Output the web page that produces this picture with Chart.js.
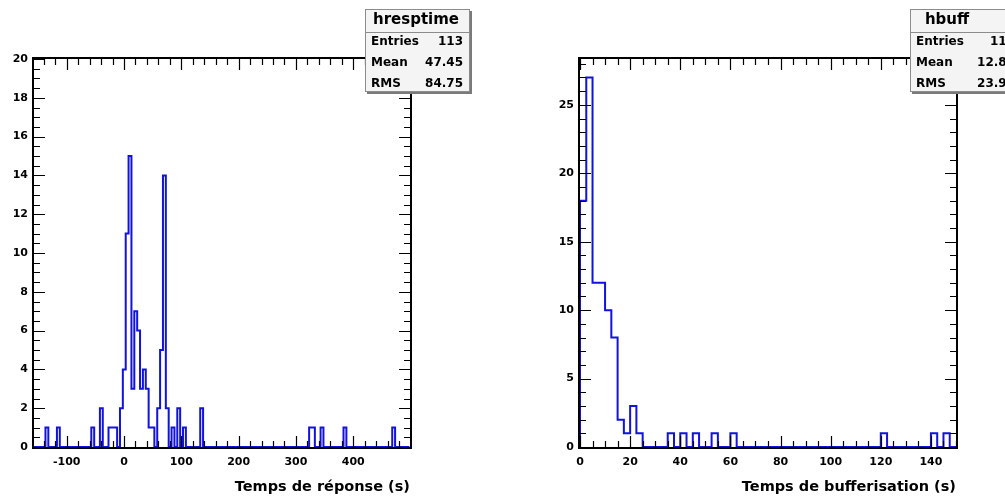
<!DOCTYPE html>
<html>
<head>
<meta charset="utf-8">
<script src="https://cdn.jsdelivr.net/npm/chart.js@4.4.1/dist/chart.umd.min.js"></script>
<style>
  html, body { margin: 0; padding: 0; background: #fff; }
  #wrap { position: relative; width: 1005px; height: 502px; overflow: hidden; }
  canvas { position: absolute; top: 0; }
  #resp { left: 0; }
  #buff { left: 505px; }
</style>
</head>
<body>
<div id="wrap">
  <canvas id="resp" width="505" height="502"></canvas>
  <canvas id="buff" width="500" height="502"></canvas>
</div>
<script>
// hresptime : temps de reponse, bins of 5 s starting at -157
const respLow = -157
const respBinWidth = 5
const respBinCount = 131
const respBinStarts = [-137, -117, -57, -42, -27, -22, -17, -7, -2, 3, 8, 13, 18, 23, 28, 33, 38, 43, 48,
  58, 63, 68, 73, 83, 93, 103, 133, 323, 328, 343, 383, 468]
const respCounts = [1, 1, 1, 2, 1, 1, 1, 2, 4, 11, 15, 3, 7, 6, 3, 4, 3, 1, 1,
  2, 5, 14, 2, 1, 2, 1, 2, 1, 1, 1, 1, 1]
const respStatLabels = ['Entries', 'Mean', 'RMS']
const respStatValues = ['113', '47.45', '84.75']

// hbuff : temps de bufferisation, bins of 2.5 s from 0 to 150
const buffLow = 0
const buffBinWidth = 2.5
const buffBinCount = 60
const buffBinStarts = [0, 2.5, 5, 7.5, 10, 12.5, 15, 17.5, 20, 22.5, 35, 40, 45, 52.5, 60, 120, 140, 145]
const buffCounts = [18, 27, 12, 12, 10, 8, 2, 1, 3, 1, 1, 1, 1, 1, 1, 1, 1, 1]
const buffStatLabels = ['Entries', 'Mean', 'RMS']
const buffStatValues = ['113', '12.87', '23.91']

const FONT = 'DejaVu Sans'

// turn the sparse bins into the outline points of the histogram
function histPoints(low, width, n, starts, counts) {
  const bins = new Array(n).fill(0)
  starts.forEach((s, i) => { bins[Math.round((s - low) / width)] = counts[i] })
  const pts = [{x: low, y: 0}]
  bins.forEach((c, k) => pts.push({x: low + k * width, y: c}))
  pts.push({x: low + n * width, y: bins[n - 1]})
  pts.push({x: low + n * width, y: 0})
  return pts
}

function eachTick(scale, minor, major, cb) {
  const i0 = Math.ceil(scale.min / minor - 1e-9)
  const i1 = Math.floor(scale.max / minor + 1e-9)
  for (let i = i0; i <= i1; i++) {
    const v = i * minor
    const r = v / major
    cb(v, Math.abs(r - Math.round(r)) < 1e-6)
  }
}

// ROOT style frame : ticks inside on all four sides + stat box
const rootFrame = {
  id: 'rootFrame',
  beforeDatasetsDraw(chart) {
    const {ctx, chartArea: a} = chart
    ctx.save()
    ctx.strokeStyle = '#000'
    ctx.lineWidth = 2
    ctx.strokeRect(a.left - 1, a.top - 1, a.right - a.left + 2, a.bottom - a.top + 2)
    ctx.restore()
  },
  afterDraw(chart, args, opts) {
    const {ctx, chartArea: a, scales: {x, y}} = chart
    ctx.save()
    ctx.strokeStyle = '#000'
    ctx.lineWidth = 1.2
    ctx.beginPath()
    eachTick(x, opts.xMinor, opts.xMajor, (v, major) => {
      const px = Math.round(x.getPixelForValue(v)) + 0.5
      const len = major ? opts.majorLen : opts.minorLen
      ctx.moveTo(px, a.bottom); ctx.lineTo(px, a.bottom - len)
      ctx.moveTo(px, a.top); ctx.lineTo(px, a.top + len)
    })
    eachTick(y, opts.yMinor, opts.yMajor, (v, major) => {
      const py = Math.round(y.getPixelForValue(v)) + 0.5
      const len = major ? opts.majorLen : opts.minorLen
      ctx.moveTo(a.left, py); ctx.lineTo(a.left + len, py)
      ctx.moveTo(a.right, py); ctx.lineTo(a.right - len, py)
    })
    ctx.stroke()

    // stat box
    const s = opts.stats
    ctx.fillStyle = '#7a7a7a'
    ctx.fillRect(s.left + 2, s.top + 2, s.width, s.height)
    ctx.fillStyle = '#f4f4f4'
    ctx.fillRect(s.left, s.top, s.width, s.height)
    ctx.strokeStyle = '#8c8c8c'
    ctx.lineWidth = 1
    ctx.strokeRect(s.left + 0.5, s.top + 0.5, s.width - 1, s.height - 1)
    ctx.beginPath()
    ctx.moveTo(s.left, s.top + 23.5)
    ctx.lineTo(s.left + s.width, s.top + 23.5)
    ctx.stroke()

    ctx.fillStyle = '#000'
    ctx.textBaseline = 'middle'
    ctx.textAlign = 'center'
    ctx.font = 'bold 15px ' + FONT
    ctx.fillText(s.title, s.titleX, s.top + 11.5)
    ctx.font = 'bold 12px ' + FONT
    s.labels.forEach((lab, i) => {
      const ty = s.top + 33 + 21 * i
      ctx.textAlign = 'left'
      ctx.fillText(lab, s.left + 6, ty)
      ctx.textAlign = 'right'
      ctx.fillText(s.values[i], s.left + s.width - 7, ty)
    })
    ctx.restore()
  }
}

function makeHist(canvas, pts, xr, yr, titleText, pad, yWidth, frameOpts) {
  return new Chart(canvas, {
    type: 'line',
    data: {
      datasets: [{
        data: pts,
        stepped: 'before',
        borderColor: '#1212e0',
        borderWidth: 2,
        pointRadius: 0,
        fill: false
      }]
    },
    options: {
      responsive: false,
      animation: false,
      devicePixelRatio: 1,
      events: [],
      layout: {padding: pad},
      plugins: {
        legend: {display: false},
        tooltip: {enabled: false},
        rootFrame: frameOpts
      },
      scales: {
        x: {
          type: 'linear',
          min: xr.min,
          max: xr.max,
          afterFit: s => { s.height = 55 },
          grid: {display: false, drawTicks: false},
          border: {display: false},
          ticks: {
            stepSize: xr.step,
            includeBounds: false,
            autoSkip: false,
            maxRotation: 0,
            padding: 9,
            color: '#000',
            font: {family: FONT, weight: 'bold', size: 11}
          },
          title: {
            display: true,
            text: titleText,
            align: 'end',
            color: '#000',
            padding: {top: 0, bottom: 6},
            font: {family: FONT, weight: 'bold', size: 14.5}
          }
        },
        y: {
          min: yr.min,
          max: yr.max,
          afterFit: s => { s.width = yWidth },
          grid: {display: false, drawTicks: false},
          border: {display: false},
          ticks: {
            stepSize: yr.step,
            includeBounds: false,
            padding: 6,
            color: '#000',
            font: {family: FONT, weight: 'bold', size: 11}
          }
        }
      }
    },
    plugins: [rootFrame]
  })
}

makeHist(
  document.getElementById('resp'),
  histPoints(respLow, respBinWidth, respBinCount, respBinStarts, respCounts),
  {min: -157, max: 499, step: 100},
  {min: 0, max: 20, step: 2},
  'Temps de réponse (s)',
  {top: 59, right: 95, bottom: 0, left: 0},
  34,
  {
    xMajor: 100, xMinor: 20, yMajor: 2, yMinor: 0.5, majorLen: 11, minorLen: 6,
    stats: {left: 365, top: 9, width: 105, height: 83, titleX: 416, title: 'hresptime',
      labels: respStatLabels, values: respStatValues}
  }
)

makeHist(
  document.getElementById('buff'),
  histPoints(buffLow, buffBinWidth, buffBinCount, buffBinStarts, buffCounts),
  {min: 0, max: 150, step: 20},
  {min: 0, max: 28.35, step: 5},
  'Temps de bufferisation (s)',
  {top: 59, right: 49, bottom: 0, left: 0},
  75,
  {
    xMajor: 20, xMinor: 5, yMajor: 5, yMinor: 1, majorLen: 11, minorLen: 6,
    stats: {left: 405, top: 9, width: 112, height: 83, titleX: 442, title: 'hbuff',
      labels: buffStatLabels, values: buffStatValues}
  }
)
</script>
</body>
</html>
